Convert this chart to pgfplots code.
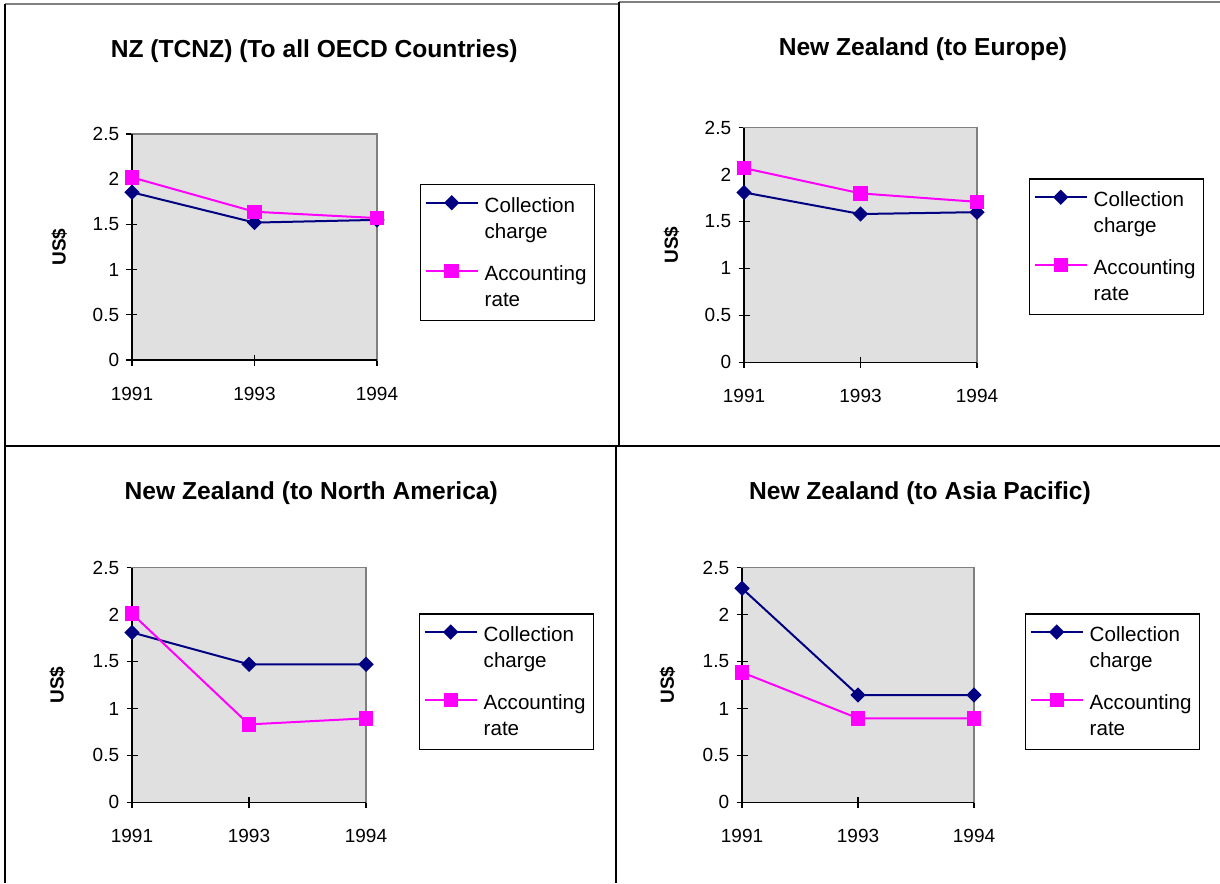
\documentclass[border=0pt]{standalone}
\usepackage{pgfplots}
\pgfplotsset{compat=1.18}
\usepackage{fontspec}
\setmainfont{Liberation Sans}
\definecolor{cnavy}{RGB}{0,0,128}
\definecolor{cmag}{RGB}{255,0,255}
\definecolor{plotbg}{RGB}{224,224,224}
\definecolor{bordgray}{RGB}{128,128,128}
\pgfplotsset{
  panel/.style={
    scale only axis,
    anchor=south west,
    xmin=0, xmax=2, ymin=0, ymax=2.5,
    xtick={0,1,2}, xticklabels={1991,1993,1994},
    ytick={0,0.5,1,1.5,2,2.5},
    xtick pos=bottom, ytick pos=left,
    tick align=center,
    major tick length=5.5pt,
    every tick/.style={black, line width=0.6pt},
    axis line style={draw=bordgray, line width=0.6pt},
    axis background/.style={fill=plotbg},
    /pgf/number format/assume math mode=true,
    tick label style={font=\fontsize{9.5}{11}\selectfont, inner sep=0pt},
    xticklabel style={anchor=base, yshift=-17.5pt},
    yticklabel style={anchor=east, xshift=-3.5pt},
    ylabel={US\$},
    ylabel style={anchor=center, font=\bfseries\fontsize{9.5}{11}\selectfont},
    title style={anchor=base, font=\bfseries\fontsize{12.3}{14}\selectfont},
    clip=false,
    legend style={anchor=north west, draw=black, line width=0.7pt, fill=white,
      inner xsep=2pt, inner ysep=2.85pt, row sep=5.85pt, column sep=1pt,
      font=\fontsize{10.3}{13}\selectfont, cells={anchor=base west},
      nodes={text depth=15.05pt}},
    legend cell align=left,
    legend image code/.code={\draw[yshift=7.85pt,mark repeat=2,mark phase=2,#1] plot coordinates {(0pt,0pt) (13pt,0pt) (26pt,0pt)};},
  },
  coll/.style={cnavy, line width=1pt, mark=square*, mark size=2.2pt,
    mark options={solid, fill=cnavy, draw=cnavy, rotate=45}},
  acct/.style={cmag, line width=1pt, mark=square*, mark size=3.1pt,
    mark options={solid, fill=cmag, draw=cmag}},
}
\newcommand{\blackaxes}{\draw[black, line width=0.8pt] (rel axis cs:0,1) -- (rel axis cs:0,0) -- (rel axis cs:1,0);}
\newcommand{\entC}{\begin{tabular}[t]{@{}l@{}}Collection\\charge\end{tabular}}
\newcommand{\entA}{\begin{tabular}[t]{@{}l@{}}Accounting\\rate\end{tabular}}
\begin{document}
\begin{tikzpicture}
\path[use as bounding box] (0,0) rectangle (610pt,-441.5pt);
% cell borders
\draw[bordgray, line width=1pt] (2.65pt,-2pt) -- (309.5pt,-2pt);
\draw[bordgray, line width=1pt] (309.5pt,-1pt) -- (610pt,-1pt);
\draw[black, line width=1pt] (2.65pt,-2pt) -- (2.65pt,-441.5pt);
\draw[black, line width=1pt] (309.5pt,-1pt) -- (309.5pt,-222.85pt);
\draw[black, line width=1pt] (2.65pt,-222.85pt) -- (610pt,-222.85pt);
\draw[black, line width=1pt] (307.85pt,-222.85pt) -- (307.85pt,-441.5pt);

% Panel 1
\begin{axis}[panel, at={(66pt,-180pt)}, width=122.5pt, height=113pt,
  title={NZ (TCNZ) (To all OECD Countries)},
  title style={at={(0.744,1)}, yshift=32.35pt},
  ylabel style={at={(axis description cs:-0.297,0.5)}},
  legend style={at={(1.1755,0.779)}}]
\addplot[coll] coordinates {(0,1.855) (1,1.52) (2,1.55)};
\addlegendentry{\entC}
\addplot[acct] coordinates {(0,2.02) (1,1.64) (2,1.57)};
\addlegendentry{\entA}
\blackaxes
\end{axis}

% Panel 2
\begin{axis}[panel, at={(372pt,-181.15pt)}, width=116.5pt, height=117.3pt,
  title={New Zealand (to Europe)},
  title style={at={(0.768,1)}, yshift=30.35pt},
  ylabel style={at={(axis description cs:-0.311,0.5)}},
  legend style={at={(1.2232,0.784)}}]
\addplot[coll] coordinates {(0,1.81) (1,1.58) (2,1.60)};
\addlegendentry{\entC}
\addplot[acct] coordinates {(0,2.07) (1,1.80) (2,1.71)};
\addlegendentry{\entA}
\blackaxes
\end{axis}

% Panel 3
\begin{axis}[panel, at={(66pt,-401.15pt)}, width=117pt, height=117.3pt,
  title={New Zealand (to North America)},
  title style={at={(0.766,1)}, yshift=28.35pt},
  ylabel style={at={(axis description cs:-0.319,0.5)}},
  legend style={at={(1.2265,0.806)}}]
\addplot[coll] coordinates {(0,1.81) (1,1.47) (2,1.47)};
\addlegendentry{\entC}
\addplot[acct] coordinates {(0,2.01) (1,0.83) (2,0.895)};
\addlegendentry{\entA}
\blackaxes
\end{axis}

% Panel 4
\begin{axis}[panel, at={(371pt,-401.15pt)}, width=116pt, height=117.3pt,
  title={New Zealand (to Asia Pacific)},
  title style={at={(0.767,1)}, yshift=28.35pt},
  ylabel style={at={(axis description cs:-0.321,0.5)}},
  legend style={at={(1.2198,0.806)}}]
\addplot[coll] coordinates {(0,2.28) (1,1.143) (2,1.143)};
\addlegendentry{\entC}
\addplot[acct] coordinates {(0,1.385) (1,0.895) (2,0.895)};
\addlegendentry{\entA}
\blackaxes
\end{axis}
\end{tikzpicture}
\end{document}
